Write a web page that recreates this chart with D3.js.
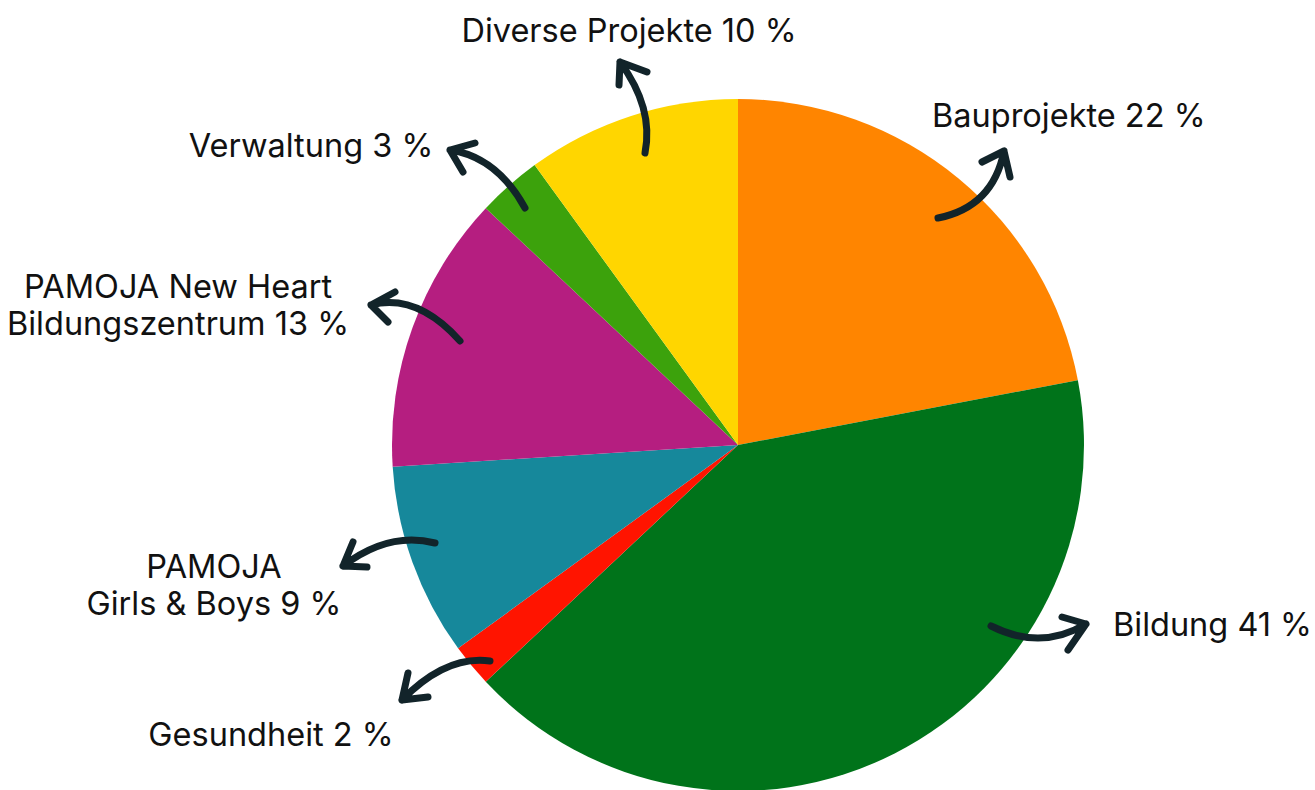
<!DOCTYPE html>
<title>Mittelverwendung</title>
<meta charset="utf-8">
<style>
  body { margin: 0; background: #fff; }
  .label { font: 32.5px Inter, sans-serif; fill: #111; }
  .arrow { fill: none; stroke: #12242a; stroke-width: 7px; stroke-linecap: round; stroke-linejoin: round; }
</style>
<body>
  <script src="https://d3js.org/d3.v7.min.js"></script>
  <div id="chart"></div>
  <script>
    // data
    var categories = ["Bauprojekte", "Bildung", "Gesundheit", "PAMOJA Girls & Boys",
                      "PAMOJA New Heart Bildungszentrum", "Verwaltung", "Diverse Projekte"];
    var shares = [22, 41, 2, 9, 13, 3, 10];
    var labelLines = [["Bauprojekte 22 %"], ["Bildung 41 %"], ["Gesundheit 2 %"],
                      ["PAMOJA", "Girls & Boys 9 %"], ["PAMOJA New Heart", "Bildungszentrum 13 %"],
                      ["Verwaltung 3 %"], ["Diverse Projekte 10 %"]];
    var colors = ["#ff8500", "#00731a", "#ff1400", "#16889b", "#b51e80", "#3ca20c", "#ffd600"];

    var width = 1315, height = 790;
    var cx = 738, cy = 445, radius = 346;

    var svg = d3.select("#chart").append("svg")
        .attr("width", width).attr("height", height);

    var pie = d3.pie().sort(null).value(function(d) { return d; });
    var arc = d3.arc().innerRadius(0).outerRadius(radius);

    var g = svg.append("g").attr("transform", "translate(" + cx + "," + cy + ")");

    g.selectAll("path.slice")
      .data(pie(shares))
      .enter().append("path")
        .attr("class", "slice")
        .attr("d", arc)
        .attr("fill", function(d, i) { return colors[i]; });

    // label placement (anchor x, first baseline y) and arrows, relative to the pie centre
    // arrow: tail, control, tip, wing1, wing2
    var labelPos = [[194, -318], [375, 191], [-467, 301], [-524, 133], [-560, -147], [-427, -288], [-109, -403]];
    var arrows = [
      [[200, -227], [255, -238], [266, -294], [244, -283], [272, -268]],
      [[253, 181], [303, 206], [348, 179], [324, 172], [330, 205]],
      [[-248, 216], [-292, 210], [-336, 255], [-330, 228], [-310, 252]],
      [[-303, 98], [-349, 86], [-395, 121], [-385, 97], [-371, 122]],
      [[-278, -104], [-321, -152], [-367, -140], [-343, -153], [-350, -123]],
      [[-213, -237], [-241, -288], [-288, -295], [-263, -302], [-275, -273]],
      [[-93, -292], [-84, -337], [-118, -383], [-119, -360], [-91, -373]]
    ];

    g.selectAll("path.arrow")
      .data(arrows)
      .enter().append("path")
        .attr("class", "arrow")
        .attr("d", function(a) {
          var p = d3.path();
          p.moveTo(a[0][0], a[0][1]);
          p.quadraticCurveTo(a[1][0], a[1][1], a[2][0], a[2][1]);
          p.moveTo(a[3][0], a[3][1]);
          p.lineTo(a[2][0], a[2][1]);
          p.lineTo(a[4][0], a[4][1]);
          return p.toString();
        });

    var labels = g.selectAll("text.label")
      .data(labelLines)
      .enter().append("text")
        .attr("class", "label")
        .attr("text-anchor", function(d, i) { return labelPos[i][0] > 0 ? "start" : "middle"; })
        .attr("x", function(d, i) { return labelPos[i][0]; })
        .attr("y", function(d, i) { return labelPos[i][1]; });

    labels.each(function(lines, i) {
      var t = d3.select(this);
      lines.forEach(function(l, j) {
        t.append("tspan")
          .attr("x", labelPos[i][0])
          .attr("dy", j === 0 ? 0 : 37)
          .text(l);
      });
    });
  </script>
</body>
